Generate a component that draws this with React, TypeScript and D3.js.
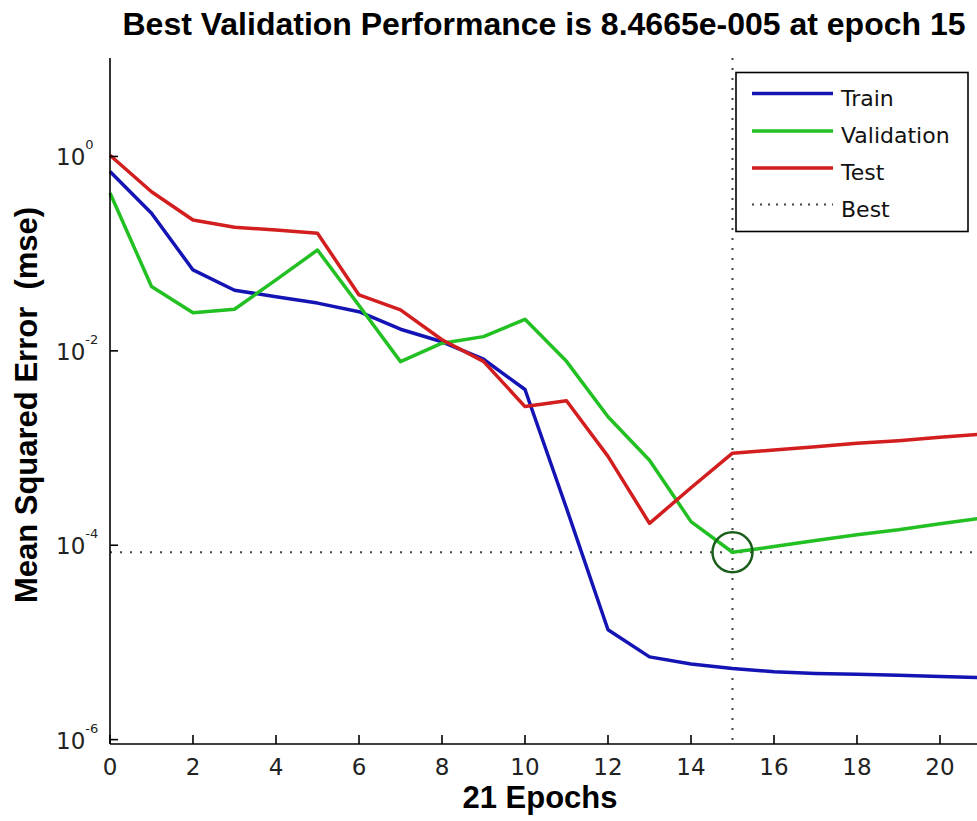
import React from 'react';
import * as d3 from 'd3';

// Training record: mean squared error per epoch
const EPOCHS = [0, 1, 2, 3, 4, 5, 6, 7, 8, 9, 10, 11, 12, 13, 14, 15, 16, 17, 18, 19, 20, 21];
const TRAIN = [
  0.70, 0.26, 0.068, 0.042, 0.036, 0.031, 0.0253, 0.0167, 0.0124, 0.0082, 0.0040,
  2.4e-4, 1.35e-5, 7.1e-6, 6.0e-6, 5.4e-6, 5.0e-6, 4.8e-6, 4.7e-6, 4.6e-6, 4.45e-6, 4.35e-6,
];
const VALIDATION = [
  0.42, 0.046, 0.0247, 0.0268, 0.0537, 0.109, 0.0293, 0.00774, 0.012, 0.014, 0.0211,
  0.0078, 0.0021, 7.5e-4, 1.75e-4, 8.4665e-5, 9.7e-5, 1.12e-4, 1.28e-4, 1.44e-4, 1.66e-4, 1.9e-4,
];
const TEST = [
  1.03, 0.434, 0.222, 0.187, 0.175, 0.162, 0.0376, 0.0264, 0.013, 0.0078, 0.00267,
  0.00307, 8.2e-4, 1.68e-4, 3.9e-4, 8.85e-4, 9.55e-4, 1.03e-3, 1.12e-3, 1.19e-3, 1.29e-3, 1.39e-3,
];
const BEST_EPOCH = 15;
const BEST_VALUE = 8.4665e-5;

const X_TICKS = [0, 2, 4, 6, 8, 10, 12, 14, 16, 18, 20];
const Y_TICK_EXPONENTS = [0, -2, -4, -6];
const LEGEND_LABELS = ['Train', 'Validation', 'Test', 'Best'];

const TITLE = 'Best Validation Performance is 8.4665e-005 at epoch 15';
const X_LABEL = '21 Epochs';
const Y_LABEL = 'Mean Squared Error  (mse)';

const COLORS = { train: '#1414b4', validation: '#22c022', test: '#d21e1e', best: '#3a4a3a', circle: '#1b5e1b' };
const BOLD_FONT = '"Liberation Sans", Arial, sans-serif';
const TICK_FONT = '"DejaVu Sans", sans-serif';

export default function App() {
  const width = 977;
  const height = 821;
  const left = 110;
  const bottom = 744;
  const top = 58;

  const x = d3.scaleLinear().domain([0, 21]).range([left, 981.5]);
  const y = d3.scaleLog().domain([Math.pow(10, -6.045), Math.pow(10, 1.013)]).range([bottom, top]);

  const line = d3
    .line<number>()
    .x((_, i) => x(EPOCHS[i]))
    .y((d) => y(d));

  const series = [
    { data: TRAIN, color: COLORS.train },
    { data: VALIDATION, color: COLORS.validation },
    { data: TEST, color: COLORS.test },
  ];

  const legendX = 736;
  const legendY = 72.5;
  const legendRows = [93.5, 131, 168, 204.5];
  const legendColors = [COLORS.train, COLORS.validation, COLORS.test, COLORS.best];

  return (
    <svg
      width={width}
      height={height}
      style={{ position: 'absolute', left: 0, top: 0, background: '#fff' }}
    >
      <rect x={0} y={0} width={width} height={height} fill="#fff" />

      {/* best epoch markers */}
      <line
        x1={x(BEST_EPOCH)}
        x2={x(BEST_EPOCH)}
        y1={top}
        y2={bottom}
        stroke={COLORS.best}
        strokeWidth={2}
        strokeDasharray="2 8"
      />
      <line
        x1={left}
        x2={width}
        y1={y(BEST_VALUE)}
        y2={y(BEST_VALUE)}
        stroke={COLORS.best}
        strokeWidth={2}
        strokeDasharray="2 8"
      />

      {/* performance curves */}
      {series.map((s, i) => (
        <path
          key={i}
          d={line(s.data) || ''}
          fill="none"
          stroke={s.color}
          strokeWidth={3.5}
          strokeLinejoin="round"
        />
      ))}

      <circle
        cx={x(BEST_EPOCH)}
        cy={y(BEST_VALUE)}
        r={20}
        fill="none"
        stroke={COLORS.circle}
        strokeWidth={2.5}
      />

      {/* axes */}
      <line x1={left} x2={left} y1={top} y2={bottom} stroke="#000" strokeWidth={1.6} />
      <line x1={left} x2={width} y1={bottom} y2={bottom} stroke="#000" strokeWidth={1.6} />

      {X_TICKS.map((t) => (
        <g key={`x${t}`}>
          <line x1={x(t)} x2={x(t)} y1={bottom} y2={bottom - 9} stroke="#000" strokeWidth={1.6} />
          <text
            x={x(t)}
            y={775}
            textAnchor="middle"
            fontFamily={TICK_FONT}
            fontSize={23}
            fill="#222"
          >
            {t}
          </text>
        </g>
      ))}

      {Y_TICK_EXPONENTS.map((e) => (
        <g key={`y${e}`}>
          <line
            x1={left}
            x2={left + 8}
            y1={y(Math.pow(10, e))}
            y2={y(Math.pow(10, e))}
            stroke="#000"
            strokeWidth={1.6}
          />
          <text
            x={56}
            y={y(Math.pow(10, e)) + 9}
            fontFamily={TICK_FONT}
            fontSize={23}
            fill="#222"
          >
            10
            <tspan fontSize={13} dy={-16}>
              {e}
            </tspan>
          </text>
        </g>
      ))}

      {/* legend */}
      <rect
        x={legendX}
        y={legendY}
        width={232}
        height={159}
        fill="#fff"
        stroke="#000"
        strokeWidth={1.6}
      />
      {LEGEND_LABELS.map((label, i) => (
        <g key={label}>
          <line
            x1={752}
            x2={833}
            y1={legendRows[i]}
            y2={legendRows[i]}
            stroke={legendColors[i]}
            strokeWidth={i === 3 ? 1.8 : 3.5}
            strokeDasharray={i === 3 ? '2 6' : undefined}
          />
          <text
            x={841}
            y={legendRows[i] + 12}
            fontFamily={TICK_FONT}
            fontSize={22}
            fill="#111"
          >
            {label}
          </text>
        </g>
      ))}

      {/* titles */}
      <text
        x={544}
        y={35}
        textAnchor="middle"
        fontFamily={BOLD_FONT}
        fontWeight="bold"
        fontSize={32}
        fill="#000"
      >
        {TITLE}
      </text>
      <text
        x={540}
        y={808}
        textAnchor="middle"
        fontFamily={BOLD_FONT}
        fontWeight="bold"
        fontSize={31}
        fill="#000"
      >
        {X_LABEL}
      </text>
      <text
        transform={`translate(37, 405) rotate(-90)`}
        textAnchor="middle"
        fontFamily={BOLD_FONT}
        fontWeight="bold"
        fontSize={31}
        fill="#000"
        style={{ whiteSpace: 'pre' }}
      >
        {Y_LABEL}
      </text>
    </svg>
  );
}
